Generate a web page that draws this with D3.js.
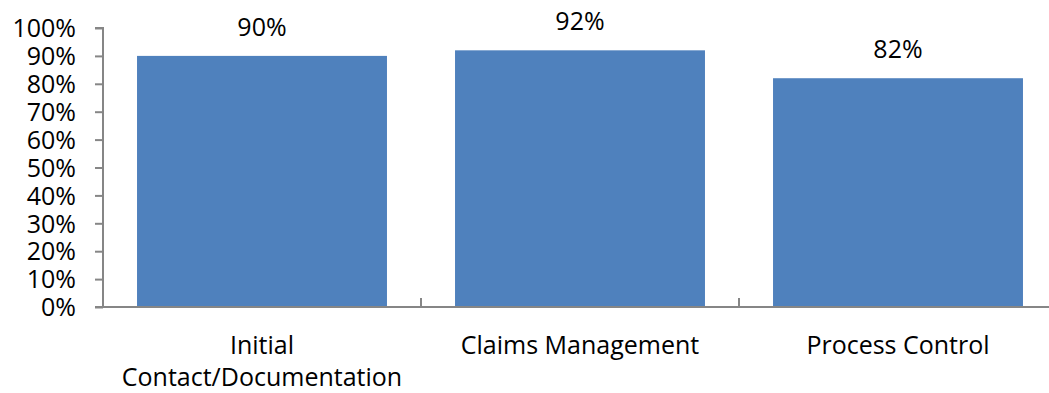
<!DOCTYPE html>
<html>
<head>
<meta charset="utf-8">
<script src="https://cdn.jsdelivr.net/npm/d3@7"></script>
<style>
  html, body { margin: 0; padding: 0; background: #fff; }
  svg { display: block; }
  text { font-family: "Open Sans", sans-serif; fill: #000; }
</style>
</head>
<body>
<svg id="chart" width="1049" height="393"></svg>
<script>
// Share of each process area, as a fraction of 1
const categories = ["Initial Contact/Documentation", "Claims Management", "Process Control"];
const values = [0.90, 0.92, 0.82];
const yTicks = [0, 0.1, 0.2, 0.3, 0.4, 0.5, 0.6, 0.7, 0.8, 0.9, 1.0];

const svg = d3.select("#chart");
const plotLeft = 103, plotRight = 1057, plotTop = 28, plotBottom = 307;
const axisColor = "#868686";
const barColor = "#4F81BD";
const fontSize = 25;

const x = d3.scaleBand()
  .domain(categories)
  .range([plotLeft, plotRight])
  .paddingInner(0.214)
  .paddingOuter(0.107);

const y = d3.scaleLinear().domain([0, 1]).range([plotBottom, plotTop]);

const pct = d3.format(".0%");

// Bars
svg.append("g")
  .selectAll("rect")
  .data(categories)
  .join("rect")
  .attr("x", d => x(d))
  .attr("width", x.bandwidth())
  .attr("y", (d, i) => y(values[i]))
  .attr("height", (d, i) => y(0) - y(values[i]))
  .attr("fill", barColor);

// Value labels above bars
svg.append("g")
  .selectAll("text")
  .data(categories)
  .join("text")
  .attr("x", d => x(d) + x.bandwidth() / 2)
  .attr("y", (d, i) => y(values[i]) - 20)
  .attr("text-anchor", "middle")
  .attr("font-size", fontSize)
  .text((d, i) => pct(values[i]));

// Y axis
const yAxis = svg.append("g")
  .attr("transform", `translate(${plotLeft},0)`)
  .call(d3.axisLeft(y).tickValues(yTicks).tickFormat(pct).tickSize(8).tickPadding(19));
yAxis.select(".domain").attr("stroke", axisColor).attr("stroke-width", 2)
  .attr("d", `M-8,${plotTop}H0V${plotBottom}`);
yAxis.selectAll(".tick line").attr("stroke", axisColor).attr("stroke-width", 2);
yAxis.selectAll(".tick text")
  .attr("font-size", fontSize)
  .attr("font-family", "'Open Sans', sans-serif")
  .attr("fill", "#000")
  .attr("dy", "0.35em");

// X axis line and category separators
const xg = svg.append("g");
xg.append("line")
  .attr("x1", plotLeft - 8).attr("x2", plotRight)
  .attr("y1", plotBottom).attr("y2", plotBottom)
  .attr("stroke", axisColor).attr("stroke-width", 2);

const boundaries = categories.slice(1).map(d => x(d) - x.step() * x.paddingInner() / 2);
xg.selectAll("line.sep")
  .data(boundaries)
  .join("line")
  .attr("class", "sep")
  .attr("x1", d => d).attr("x2", d => d)
  .attr("y1", plotBottom - 9).attr("y2", plotBottom)
  .attr("stroke", axisColor).attr("stroke-width", 2);

// Category labels, wrapped to the band width
const labels = xg.selectAll("text.cat")
  .data(categories)
  .join("text")
  .attr("class", "cat")
  .attr("text-anchor", "middle")
  .attr("font-size", fontSize)
  .attr("x", d => x(d) + x.bandwidth() / 2)
  .attr("y", 354);

labels.each(function(d) {
  const el = d3.select(this);
  const cx = x(d) + x.bandwidth() / 2;
  const words = d.split(" ");
  const lines = [];
  let line = [];
  const probe = el.append("tspan");
  words.forEach(w => {
    const trial = line.concat(w).join(" ");
    probe.text(trial);
    if (line.length && probe.node().getComputedTextLength() > x.step()) {
      lines.push(line.join(" "));
      line = [w];
    } else {
      line.push(w);
    }
  });
  lines.push(line.join(" "));
  probe.remove();
  lines.forEach((t, i) => {
    el.append("tspan").attr("x", cx).attr("dy", i === 0 ? 0 : 32).text(t);
  });
});
</script>
</body>
</html>
